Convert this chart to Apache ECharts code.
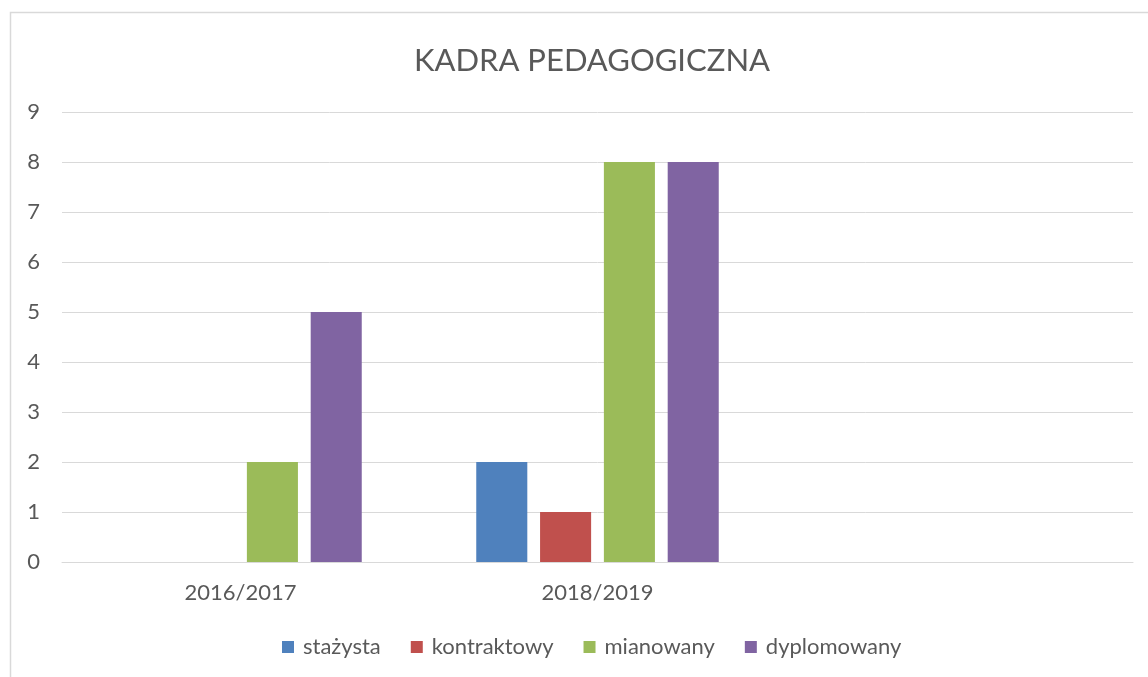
<!DOCTYPE html>
<html>
<head>
<meta charset="utf-8">
<script src="https://cdn.jsdelivr.net/npm/echarts@6/dist/echarts.min.js"></script>
<style>
  html, body { margin: 0; padding: 0; background: #fff; }
  #chart { width: 1148px; height: 677px; }
</style>
</head>
<body>
<div id="chart"></div>
<script>
// data
const years = ['2016/2017', '2018/2019', ''];
const stazysta = [0, 2, null];
const kontraktowy = [0, 1, null];
const mianowany = [2, 8, null];
const dyplomowany = [5, 8, null];

const chart = echarts.init(document.getElementById('chart'));
const font = 'Lato, "Open Sans", sans-serif';
const grey = '#595959';

function bar(name, data, color) {
  return {
    name: name,
    type: 'bar',
    data: data,
    barWidth: '14.3%',
    barGap: '25%',
    itemStyle: { color: color }
  };
}

chart.setOption({
  animation: false,
  graphic: [{
    type: 'rect',
    shape: { x: 10.5, y: 12.5, width: 1200, height: 700 },
    style: { fill: 'none', stroke: '#d9d9d9', lineWidth: 1.5 },
    silent: true
  }],
  title: {
    text: 'KADRA PEDAGOGICZNA',
    left: 587,
    top: 40,
    textAlign: 'center',
    textStyle: { fontFamily: font, fontSize: 31, fontWeight: 'normal', color: grey }
  },
  legend: {
    left: 277,
    top: 631,
    itemWidth: 12,
    itemHeight: 12,
    itemGap: 30,
    icon: 'rect',
    textStyle: { fontFamily: font, fontSize: 22, color: grey, padding: [0, 0, 0, 4] }
  },
  grid: { left: 62, right: 15, top: 112, bottom: 115 },
  xAxis: {
    type: 'category',
    data: years,
    axisTick: { show: false },
    axisLine: { lineStyle: { color: '#d9d9d9' } },
    axisLabel: { fontFamily: font, fontSize: 22, color: grey, margin: 20 }
  },
  yAxis: {
    type: 'value',
    min: 0,
    max: 9,
    interval: 1,
    axisLabel: { fontFamily: font, fontSize: 22, color: grey, margin: 22 },
    splitLine: { lineStyle: { color: '#d9d9d9', width: 1 } }
  },
  series: [
    bar('stażysta', stazysta, '#4F81BD'),
    bar('kontraktowy', kontraktowy, '#C0504D'),
    bar('mianowany', mianowany, '#9BBB59'),
    bar('dyplomowany', dyplomowany, '#8064A2')
  ]
});
</script>
</body>
</html>
